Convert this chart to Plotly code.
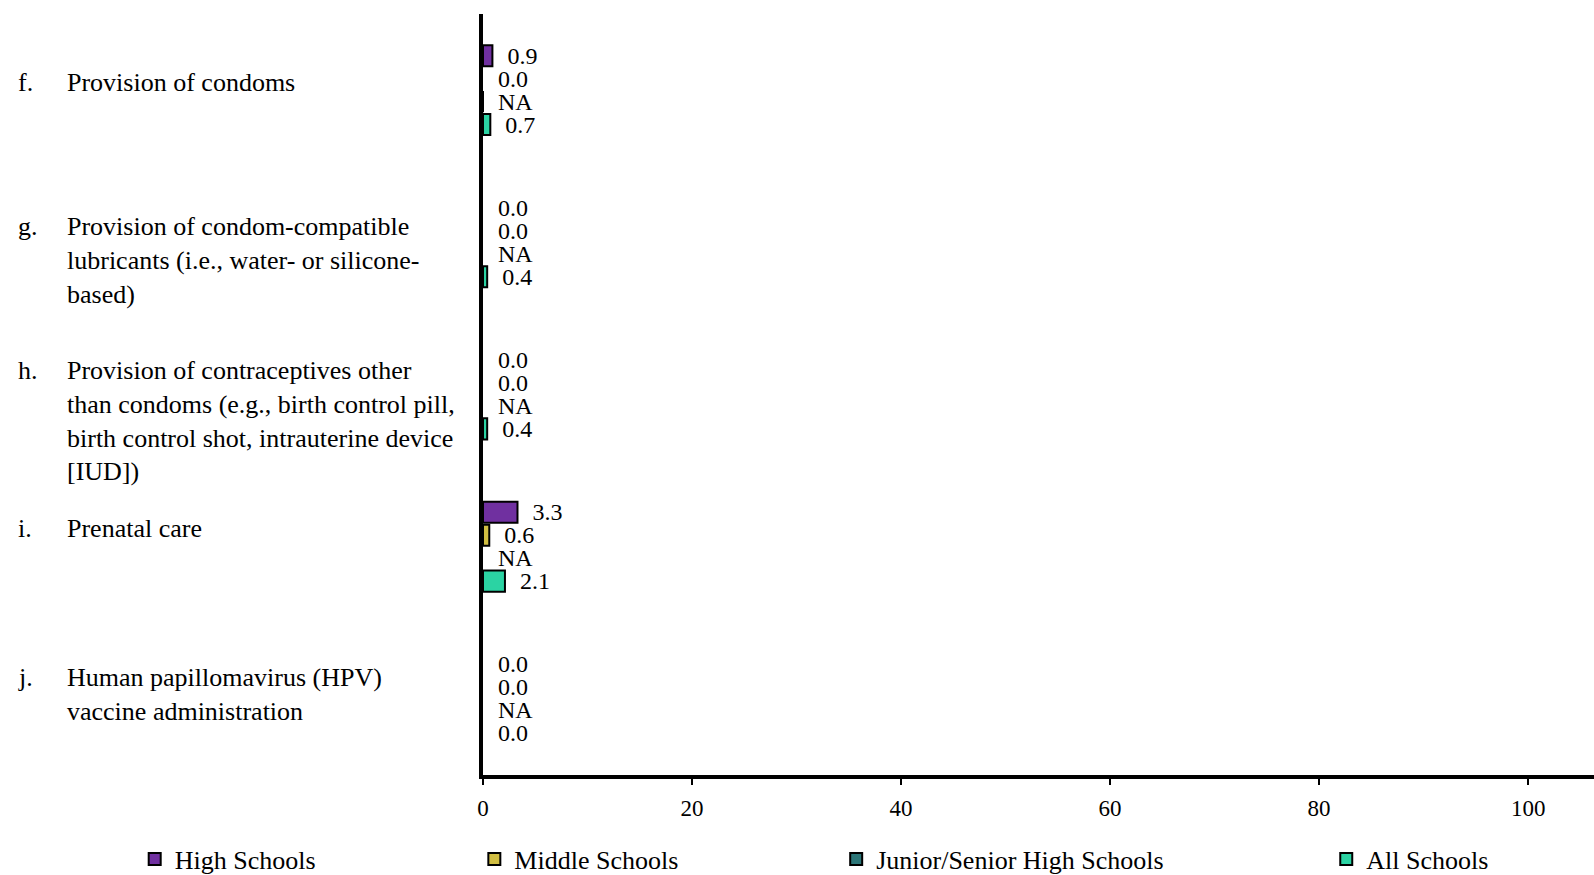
import plotly.graph_objects as go

# ---- data ----
letters = ["f.", "g.", "h.", "i.", "j."]
labels = [
    "Provision of condoms",
    "Provision of condom-compatible<br>lubricants (i.e., water- or silicone-<br>based)",
    "Provision of contraceptives other<br>than condoms (e.g., birth control pill,<br>birth control shot, intrauterine device<br>[IUD])",
    "Prenatal care",
    "Human papillomavirus (HPV)<br>vaccine administration",
]
series_names = ["High Schools", "Middle Schools", "Junior/Senior High Schools", "All Schools"]
high_schools = [0.9, 0.0, 0.0, 3.3, 0.0]
middle_schools = [0.0, 0.0, 0.0, 0.6, 0.0]
junior_senior = [None, None, None, None, None]
all_schools = [0.7, 0.4, 0.4, 2.1, 0.0]
x_ticks = [0, 20, 40, 60, 80, 100]

# ---- styles ----
colors = ["#7030A0", "#D1BE42", "#2C7678", "#2BD3A3"]
FONT = "Liberation Serif, Times New Roman, serif"
label_yshift = [24, 32, 41, 35, 38]
legend_x = [-0.3135, -0.0078, 0.3179, 0.7590]
legend_ids = ["legend", "legend2", "legend3", "legend4"]

W, H = 1594, 875
ML, MR, MT, MB = 483, 0, 14, 100

fig = go.Figure()
for name, vals, col, lid in zip(series_names,
                                [high_schools, middle_schools, junior_senior, all_schools],
                                colors, legend_ids):
    # non-zero points first so the legend swatch gets the outlined style
    order = sorted(range(len(vals)), key=lambda i: 0 if vals[i] else 1)
    ys = [letters[i] for i in order]
    xs = [0 if vals[i] is None else vals[i] for i in order]
    txt = ["\u2002NA" if vals[i] is None else "\u2002" + f"{vals[i]:.1f}" for i in order]
    lw = [2 if vals[i] else 0 for i in order]
    lw[0] = 2
    fig.add_trace(go.Bar(
        y=ys, x=xs, orientation="h", name=name,
        marker=dict(color=col, line=dict(color="black", width=lw)),
        text=txt, textposition="outside", constraintext="none", cliponaxis=False,
        outsidetextfont=dict(family=FONT, size=24, color="black"),
        legend=lid,
    ))

for i, (let, lab) in enumerate(zip(letters, labels)):
    fig.add_annotation(x=-0.4201, xref="paper", y=let, yref="y", text=let,
                       xanchor="left", yanchor="top", yshift=label_yshift[i], showarrow=False,
                       align="left", font=dict(family=FONT, size=26, color="black"))
    fig.add_annotation(x=-0.3761, xref="paper", y=let, yref="y", text=lab,
                       xanchor="left", yanchor="top", yshift=label_yshift[i], showarrow=False,
                       align="left", font=dict(family=FONT, size=26, color="black"))

legend_common = dict(orientation="h", yanchor="middle", y=-0.1104, xanchor="left",
                     font=dict(family=FONT, size=26, color="black"),
                     bgcolor="rgba(0,0,0,0)", borderwidth=0)
layout_legends = {}
for lid, lx in zip(legend_ids, legend_x):
    layout_legends[lid] = dict(legend_common, x=lx)

fig.update_layout(
    width=W, height=H,
    margin=dict(l=ML, r=MR, t=MT, b=MB, autoexpand=False),
    paper_bgcolor="white", plot_bgcolor="white",
    barmode="group", bargap=0.397, bargroupgap=0.08,
    font=dict(family=FONT, size=24, color="black"),
    showlegend=True,
    **layout_legends,
)
fig.update_xaxes(range=[0, 106.3], tickvals=x_ticks, showgrid=False, zeroline=False,
                 showline=True, linecolor="black", linewidth=4,
                 ticks="outside", ticklen=6, tickwidth=2, tickcolor="black",
                 ticklabelstandoff=3,
                 tickfont=dict(family=FONT, size=23, color="black"))
fig.update_yaxes(categoryorder="array", categoryarray=letters, autorange="reversed",
                 showticklabels=False, showgrid=False, zeroline=False,
                 showline=True, linecolor="black", linewidth=4, ticks="")

fig.write_html("out.html", config={"displayModeBar": False},
               post_script="document.body.style.margin='0';document.body.style.overflow='hidden';")
